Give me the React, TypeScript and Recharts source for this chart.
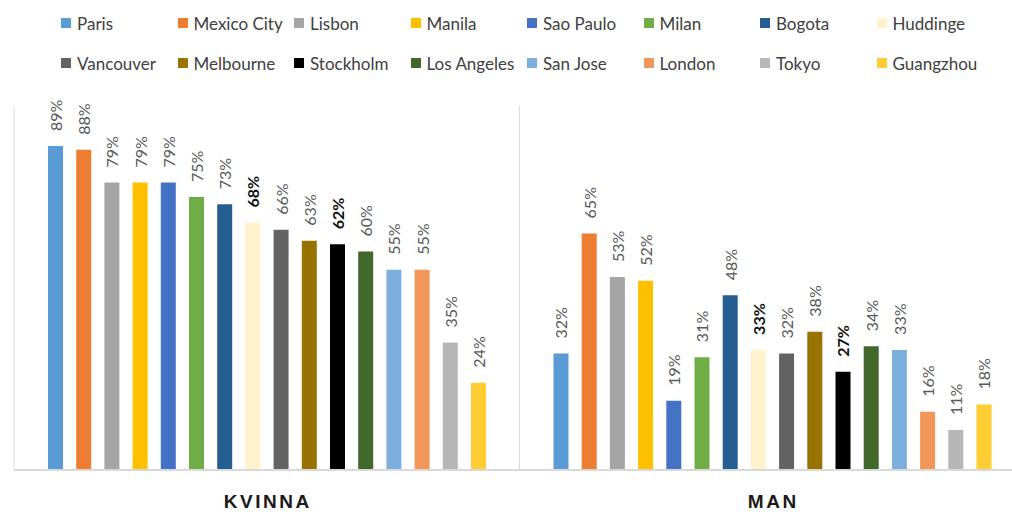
import React from 'react';
import { BarChart, Bar, XAxis, YAxis, CartesianGrid, Legend, LabelList } from 'recharts';

const groups = ['KVINNA', 'MAN'];

const cities = [
  'Paris', 'Mexico City', 'Lisbon', 'Manila', 'Sao Paulo', 'Milan', 'Bogota', 'Huddinge',
  'Vancouver', 'Melbourne', 'Stockholm', 'Los Angeles', 'San Jose', 'London', 'Tokyo', 'Guangzhou',
];

const kvinna = [89, 88, 79, 79, 79, 75, 73, 68, 66, 63, 62, 60, 55, 55, 35, 24];
const man = [32, 65, 53, 52, 19, 31, 48, 33, 32, 38, 27, 34, 33, 16, 11, 18];

const colors = [
  '#5B9BD5', '#ED7D31', '#A5A5A5', '#FFC000', '#4472C4', '#70AD47', '#255E91', '#FFF2CC',
  '#636363', '#997300', '#000000', '#43682B', '#7CAFDD', '#F1975A', '#B7B7B7', '#FFCD33',
];

// cities whose labels are highlighted in bold
const highlighted = ['Huddinge', 'Stockholm'];

const data = groups.map((g, gi) => {
  const row: Record<string, string | number> = { group: g };
  cities.forEach((c, ci) => {
    row[c] = gi === 0 ? kvinna[ci] : man[ci];
  });
  return row;
});

const FONT = 'Lato, "Open Sans", sans-serif';

const makeLabel = (bold: boolean) => (props: any) => {
  const { x, y, width, value } = props;
  const cx = Number(x) + Number(width) / 2;
  const ty = Number(y) - 15;
  return (
    <text
      x={cx}
      y={ty}
      transform={`rotate(-90 ${cx} ${ty})`}
      textAnchor="start"
      dominantBaseline="central"
      fontFamily={FONT}
      fontSize={16}
      fontWeight={bold ? 700 : 400}
      fill={bold ? '#111' : '#595959'}
    >
      {value}%
    </text>
  );
};

const GroupTick = (props: any) => {
  const { x, y, payload } = props;
  return (
    <text
      x={x + 1}
      y={y + 30}
      textAnchor="middle"
      fontFamily='"Liberation Sans", sans-serif'
      fontSize={19}
      fontWeight={700}
      letterSpacing={2.5}
      fill="#1a1a1a"
    >
      {payload.value}
    </text>
  );
};

const LegendBox = () => (
  <div
    style={{
      display: 'grid',
      gridTemplateColumns: 'repeat(8, 116.5px)',
      gridAutoRows: '20px',
      rowGap: 20,
      paddingLeft: 61,
      paddingTop: 13,
      fontFamily: FONT,
      fontSize: 17,
      color: '#404040',
    }}
  >
    {cities.map((c, i) => (
      <div key={c} style={{ display: 'flex', alignItems: 'center', whiteSpace: 'nowrap' }}>
        <span style={{ width: 10, height: 10, background: colors[i], marginRight: 6, flex: 'none' }} />
        <span>{c}</span>
      </div>
    ))}
  </div>
);

export default function App() {
  return (
    <div style={{ position: 'absolute', left: 0, top: 0, width: 1012, height: 512, overflow: 'hidden', background: '#fff' }}>
      <BarChart
        width={1040}
        height={512}
        data={data}
        margin={{ top: 106, right: 15, bottom: 12, left: 14 }}
        barSize={15}
        barGap={13.2}
      >
        <CartesianGrid
          horizontal={false}
          stroke="#d9d9d9"
          verticalCoordinatesGenerator={({ offset }: any) => [offset.left, offset.left + offset.width / 2]}
        />
        <XAxis
          dataKey="group"
          height={30}
          axisLine={{ stroke: '#d9d9d9', strokeWidth: 2 }}
          tickLine={false}
          tick={<GroupTick />}
          interval={0}
        />
        <YAxis hide domain={[0, 100]} />
        <Legend
          layout="horizontal"
          align="center"
          verticalAlign="middle"
          wrapperStyle={{ top: 0, left: 0, width: 1012 }}
          content={() => <LegendBox />}
        />
        {cities.map((c, i) => (
          <Bar key={c} dataKey={c} fill={colors[i]} isAnimationActive={false}>
            <LabelList dataKey={c} content={makeLabel(highlighted.includes(c))} />
          </Bar>
        ))}
      </BarChart>
    </div>
  );
}
